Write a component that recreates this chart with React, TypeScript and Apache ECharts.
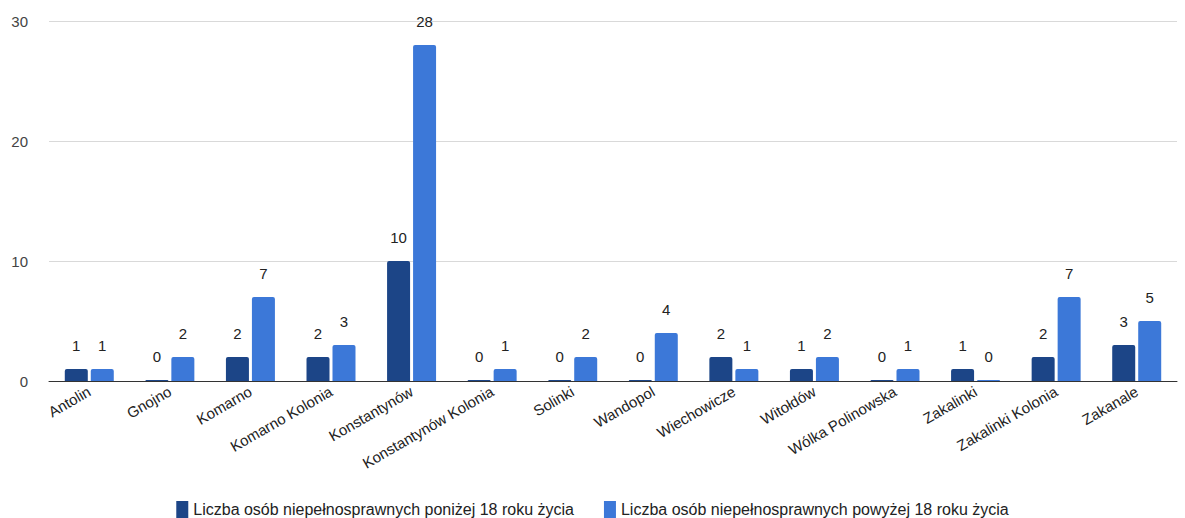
import React, { useEffect, useRef } from "react";
import * as echarts from "echarts";

const categories = [
  "Antolin",
  "Gnojno",
  "Komarno",
  "Komarno Kolonia",
  "Konstantynów",
  "Konstantynów Kolonia",
  "Solinki",
  "Wandopol",
  "Wiechowicze",
  "Witołdów",
  "Wólka Polinowska",
  "Zakalinki",
  "Zakalinki Kolonia",
  "Zakanale",
];
const below18 = [1, 0, 2, 2, 10, 0, 0, 0, 2, 1, 0, 1, 2, 3];
const above18 = [1, 2, 7, 3, 28, 1, 2, 4, 1, 2, 1, 0, 7, 5];
const seriesNames = [
  "Liczba osób niepełnosprawnych poniżej 18 roku życia",
  "Liczba osób niepełnosprawnych powyżej 18 roku życia",
];
const yTicks = { min: 0, max: 30, interval: 10 };

export default function App() {
  const ref = useRef<HTMLDivElement>(null);
  useEffect(() => {
    if (!ref.current) return;
    const chart = echarts.init(ref.current, null, { renderer: "svg" });
    const font = "Arial, 'Liberation Sans', sans-serif";
    const mkSeries = (name: string, data: number[], color: string) => ({
      name,
      type: "bar",
      data,
      barWidth: 23,
      barGap: "13%",
      barMinHeight: 1,
      itemStyle: { color, borderRadius: [2, 2, 0, 0] },
      label: {
        show: true,
        position: "top",
        distance: 16,
        color: "#222",
        fontSize: 15,
        fontFamily: font,
      },
    });
    chart.setOption({
      animation: false,
      textStyle: { fontFamily: font },
      grid: { left: 49, right: 8, top: 21, bottom: 137, containLabel: false },
      xAxis: {
        type: "category",
        data: categories,
        axisLine: { show: true, lineStyle: { color: "#333", width: 1 } },
        axisTick: { show: false },
        axisLabel: {
          rotate: 30,
          color: "#222",
          fontSize: 15,
          fontFamily: font,
          margin: 9,
          interval: 0,
        },
      },
      yAxis: {
        type: "value",
        min: yTicks.min,
        max: yTicks.max,
        interval: yTicks.interval,
        axisLine: { show: false },
        axisTick: { show: false },
        splitLine: { lineStyle: { color: "#d9d9d9", width: 1 } },
        axisLabel: { color: "#444", fontSize: 15, fontFamily: font, margin: 21 },
      },
      legend: {
        bottom: 0,
        padding: 0,
        left: "center",
        itemWidth: 12,
        itemHeight: 17,
        itemGap: 30,
        icon: "rect",
        textStyle: { color: "#222", fontSize: 16, fontFamily: font },
        data: seriesNames,
      },
      series: [
        mkSeries(seriesNames[0], below18, "#1c4587"),
        mkSeries(seriesNames[1], above18, "#3c78d8"),
      ],
    });
    return () => chart.dispose();
  }, []);
  return <div ref={ref} style={{ width: 1185, height: 518, position: "absolute", left: 0, top: 0, background: "#fff" }} />;
}
